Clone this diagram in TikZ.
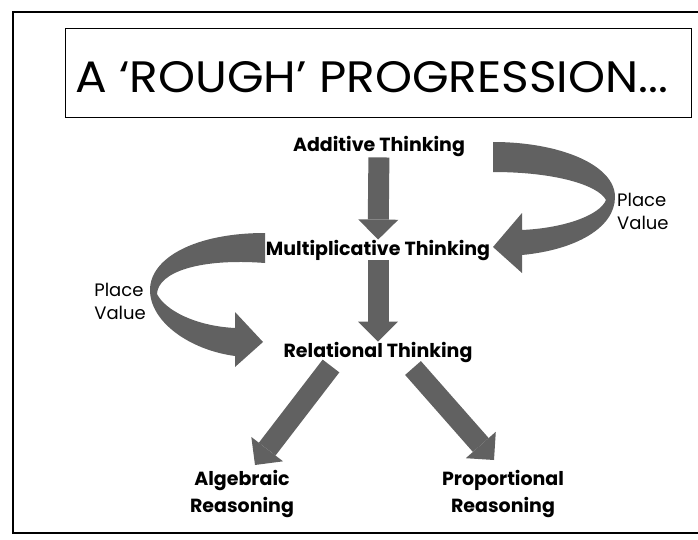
\documentclass[tikz,border=0pt]{standalone}
\usepackage{fontspec}
\usepackage{graphicx}
\setmainfont{Poppins}
\usetikzlibrary{arrows.meta}
\definecolor{arrowgrey}{gray}{0.38}
\tikzset{stage/.style={font=\bfseries\fontsize{19}{27}\selectfont, inner sep=0pt, align=center},
pv/.style={font=\fontsize{18}{23}\selectfont, inner sep=0pt, align=left},
blockarr/.style={arrowgrey, line width=21pt, -{Triangle[width=40pt,length=20pt,line width=0pt]}},
ribbon/.style={fill=arrowgrey}}
\begin{document}
\begin{tikzpicture}[x=1pt,y=-1pt]
\useasboundingbox (0,0) rectangle (698,540);
\draw[line width=1.3pt] (698,12) -- (13,12) -- (13,533) -- (698,533);
\node[draw, line width=0.8pt, minimum width=626pt, minimum height=89pt, inner sep=0pt](titlebox) at (378,72.5){};
\node[font=\fontsize{44}{50}\selectfont, anchor=base west, inner sep=0pt](title) at (75,93){\scalebox{1.07}[1]{A `ROUGH' PROGRESSION...}};
\node[stage, anchor=base](add) at (379,152){Additive Thinking};
\node[stage, anchor=base](mult) at (378,255){Multiplicative Thinking};
\node[stage, anchor=base](rel) at (378,357){Relational Thinking};
\node[stage](alg) at (242,494){Algebraic\\Reasoning};
\node[stage](prop) at (503,494){Proportional\\Reasoning};
\node[pv, anchor=west](pvr) at (617,211){Place\\Value};
\node[pv, anchor=east](pvl) at (146,301){Place\\Value};
\draw[blockarr] (add) -- (mult);
\draw[blockarr] (mult) -- (rel);
\draw[blockarr] ([xshift=-47pt,yshift=-14pt]rel.center) -- ([xshift=13pt,yshift=29pt]alg.center);
\draw[blockarr] ([xshift=35pt,yshift=-16pt]rel.center) -- ([xshift=-9pt,yshift=34pt]prop.center);
% place value loops
\fill[ribbon] (493,142) .. controls (560,142) and (615,165) .. (615,197) .. controls (615,228) and (575,250) .. (522,255) -- (522,273) -- (493,247) -- (522,213) -- (522,230) .. controls (565,228) and (600,215) .. (606,200) .. controls (598,185) and (555,172) .. (493,172) -- cycle;
\fill[ribbon] (265,233) .. controls (195,233) and (150,258) .. (150,290) .. controls (150,322) and (190,350) .. (235,356) -- (235,367) -- (263,342) -- (235,312) -- (235,328) .. controls (195,326) and (165,310) .. (157,294) .. controls (158,272) and (200,258) .. (265,263) -- cycle;
\end{tikzpicture}
\end{document}
